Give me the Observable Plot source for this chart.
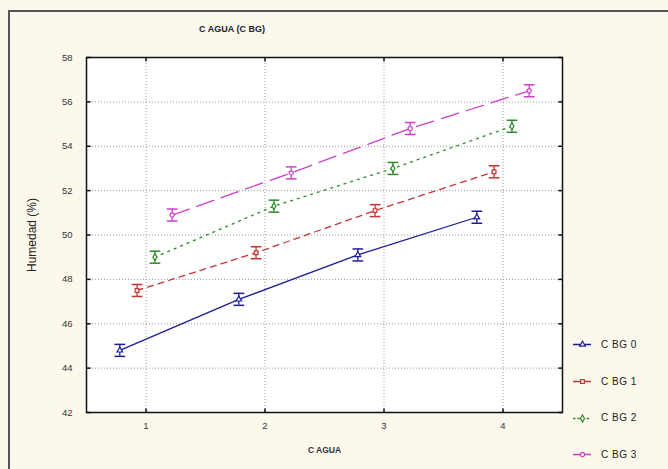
<!DOCTYPE html>
<html><head><meta charset="utf-8">
<script src="https://cdn.jsdelivr.net/npm/d3@7"></script>
<script src="https://cdn.jsdelivr.net/npm/@observablehq/plot@0.6"></script>
<style>
html,body{margin:0;padding:0;background:#fff;}
#wrap{position:relative;width:668px;height:469px;background:#fdf8ec;font-family:Arial,"Liberation Sans",sans-serif;overflow:hidden;}
#border{position:absolute;left:8px;top:10px;width:668px;height:470px;border:2px solid #555;border-right:none;border-bottom:none;box-sizing:border-box;}
#title{position:absolute;left:232px;top:24px;transform:translateX(-50%);font-size:9px;font-weight:bold;color:#222;}
#legend{position:absolute;left:573px;top:326px;font-size:10px;color:#222;letter-spacing:0.5px;}
.item{display:flex;align-items:center;height:36.7px;}
.item svg{margin-right:10px;}
svg.plot{position:absolute;left:0;top:0;}
</style></head>
<body><div id="wrap"><div id="border"></div><div id="title"></div><div id="legend"></div></div>
<script>
const titleText = "C AGUA (C BG)";
const xLabel = "C AGUA";
const yLabel = "Humedad (%)";
const levels = [1, 2, 3, 4];
const seriesNames = ["C BG 0", "C BG 1", "C BG 2", "C BG 3"];
const offsets = [-0.22, -0.075, 0.075, 0.22];
const cbg0 = [44.8, 47.1, 49.1, 50.8];
const cbg1 = [47.5, 49.2, 51.1, 52.85];
const cbg2 = [49.0, 51.3, 53.0, 54.9];
const cbg3 = [50.9, 52.8, 54.8, 56.5];
const errors = [0.27, 0.27, 0.27, 0.27];
const colors = ["#1c1c96", "#c83232", "#2a8a2a", "#cc40cc"];
const dashes = ["none", "6,5", "2,5", "18,8"];
const symbols = ["triangle", "square", "diamond", "circle"];
const yTicks = [42, 44, 46, 48, 50, 52, 54, 56, 58];
const xDomain = [0.5, 4.5];
const yDomain = [42, 58];

const seriesVals = [cbg0, cbg1, cbg2, cbg3];
const data = [];
seriesVals.forEach((vals, s) => vals.forEach((v, i) => data.push({
  series: seriesNames[s], s, x: levels[i] + offsets[s], y: v, e: errors[s]
})));

const tickStyle = {stroke: "#111", strokeWidth: 1.5};
const marks = [
  Plot.frame({fill: "white"}),
  Plot.gridX(levels, {stroke: "#999", strokeOpacity: 1, strokeDasharray: "1,2"}),
  Plot.gridY(yTicks, {stroke: "#999", strokeOpacity: 1, strokeDasharray: "1,2"}),
  Plot.link(levels, {x1: d => d, x2: d => d, y1: yDomain[0], y2: yDomain[0] + 0.18, ...tickStyle}),
  Plot.link(levels, {x1: d => d, x2: d => d, y1: yDomain[1], y2: yDomain[1] - 0.18, ...tickStyle}),
  Plot.link(yTicks, {y1: d => d, y2: d => d, x1: xDomain[0], x2: xDomain[0] + 0.035, ...tickStyle}),
  Plot.link(yTicks, {y1: d => d, y2: d => d, x1: xDomain[1] - 0.035, x2: xDomain[1], ...tickStyle})
];
seriesNames.forEach((name, s) => {
  const d = data.filter(r => r.s === s);
  marks.push(Plot.line(d, {x: "x", y: "y", stroke: colors[s], strokeWidth: 1.3, strokeDasharray: dashes[s]}));
  marks.push(Plot.ruleX(d, {x: "x", y1: r => r.y - r.e, y2: r => r.y + r.e, stroke: colors[s], strokeWidth: 1.3}));
  marks.push(Plot.link(d, {x1: r => r.x - 0.045, x2: r => r.x + 0.045, y1: r => r.y + r.e, y2: r => r.y + r.e, stroke: colors[s], strokeWidth: 1.5}));
  marks.push(Plot.link(d, {x1: r => r.x - 0.045, x2: r => r.x + 0.045, y1: r => r.y - r.e, y2: r => r.y - r.e, stroke: colors[s], strokeWidth: 1.5}));
  marks.push(Plot.dot(d, {x: "x", y: "y", symbol: () => symbols[s], r: 2.1, stroke: colors[s], fill: "white", strokeWidth: 1.2}));
});
marks.push(Plot.frame({stroke: "#111", strokeWidth: 1.5}));

const chart = Plot.plot({
  width: 668, height: 469,
  marginLeft: 86, marginRight: 106, marginTop: 57, marginBottom: 57,
  style: {background: "transparent", fontFamily: "Arial, 'Liberation Sans', sans-serif", fontSize: "9.5px", color: "#333"},
  x: {domain: xDomain, ticks: levels, tickFormat: d3.format("d"), tickSize: 0, tickPadding: 10, label: xLabel, labelAnchor: "center", labelOffset: 40},
  y: {domain: yDomain, ticks: yTicks, tickSize: 0, tickPadding: 14, label: yLabel, labelAnchor: "center", labelOffset: 59, labelArrow: "none"},
  symbol: {type: "identity"},
  marks
});
chart.setAttribute("class", "plot");
document.getElementById("wrap").appendChild(chart);
chart.querySelectorAll('[aria-label="y-axis label"] text').forEach(t => { t.style.fontSize = "12px"; t.style.fill = "#222"; t.textContent = yLabel; });
chart.querySelectorAll('[aria-label="x-axis label"] text').forEach(t => { t.style.fontWeight = "bold"; t.style.fontSize = "8.5px"; t.textContent = xLabel; });

document.getElementById("title").textContent = titleText;
const legend = document.getElementById("legend");
seriesNames.forEach((name, s) => {
  const item = document.createElement("div");
  item.className = "item";
  const sw = Plot.plot({
    width: 18, height: 12, margin: 0, axis: null,
    x: {domain: [0, 1]}, y: {domain: [0, 1]}, symbol: {type: "identity"},
    style: {background: "transparent", position: "static"},
    marks: [
      Plot.line([{x: 0, y: 0.5}, {x: 1, y: 0.5}], {x: "x", y: "y", stroke: colors[s], strokeWidth: 1.3, strokeDasharray: s === 2 ? "1.5,3" : "none"}),
      Plot.dot([{x: 0.5, y: 0.5}], {x: "x", y: "y", symbol: () => symbols[s], r: 2.1, stroke: colors[s], fill: "white", strokeWidth: 1.2})
    ]
  });
  item.appendChild(sw);
  const label = document.createElement("span");
  label.textContent = name;
  item.appendChild(label);
  legend.appendChild(item);
});
</script></body></html>
